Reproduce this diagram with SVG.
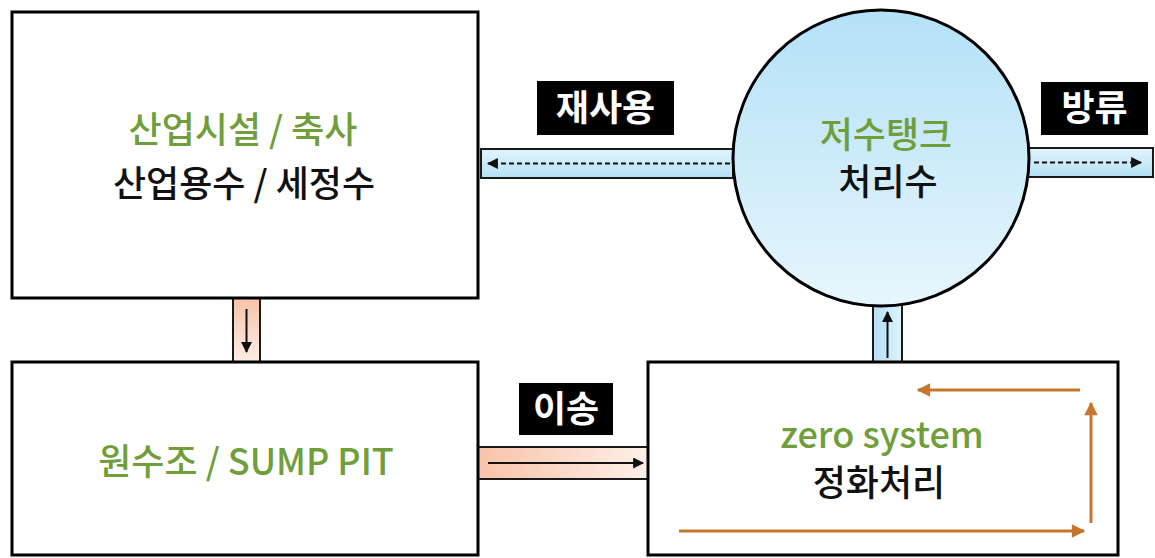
<svg xmlns="http://www.w3.org/2000/svg" width="1155" height="558" viewBox="0 0 1155 558">
<style>
.box{fill:#fff;stroke:#000;stroke-width:3}
.pipe{stroke:#1a1a1a;stroke-width:2}
.t{font-family:"Noto Sans CJK KR","Noto Sans",sans-serif;font-size:36px;font-weight:500;text-anchor:middle}
.g{fill:#6F9E3A}
.k{fill:#111}
.lbl{fill:#000}
.lt{font-family:"Noto Sans CJK KR","Noto Sans",sans-serif;font-size:36px;font-weight:bold;fill:#fff;text-anchor:middle}
.dash{stroke:#111;stroke-width:2;stroke-dasharray:5 3;fill:none}
.solid{stroke:#111;stroke-width:2;fill:none}
.or{stroke:#C5762E;stroke-width:3;fill:none}
</style>
<defs>
<linearGradient id="circ" x1="0" y1="0" x2="0" y2="1">
<stop offset="0" stop-color="#B4E1F7"/>
<stop offset="1" stop-color="#E6F6FD"/>
</linearGradient>
<linearGradient id="bpipeH" x1="0" y1="0" x2="0" y2="1">
<stop offset="0" stop-color="#E2F5FD"/>
<stop offset="1" stop-color="#B3E0F5"/>
</linearGradient>
<linearGradient id="bpipeV" x1="0" y1="0" x2="1" y2="0">
<stop offset="0" stop-color="#B3E0F5"/>
<stop offset="1" stop-color="#DDF3FC"/>
</linearGradient>
<linearGradient id="ppipeV" x1="0" y1="0" x2="0" y2="1">
<stop offset="0" stop-color="#F7C3A8"/>
<stop offset="1" stop-color="#FDEDE4"/>
</linearGradient>
<linearGradient id="ppipeH" x1="0" y1="0" x2="1" y2="0">
<stop offset="0" stop-color="#F7C3A8"/>
<stop offset="1" stop-color="#FDF0E8"/>
</linearGradient>
<marker id="ah" viewBox="0 0 10 10" refX="9" refY="5" markerWidth="6" markerHeight="5.5" orient="auto" markerUnits="strokeWidth">
<path d="M0,0 L10,5 L0,10 Z" fill="#111"/>
</marker>
<marker id="aho" viewBox="0 0 10 10" refX="9" refY="5" markerWidth="5" markerHeight="4.5" orient="auto" markerUnits="strokeWidth">
<path d="M0,0 L10,5 L0,10 Z" fill="#C5762E"/>
</marker>
</defs>

<g id="connectors">
<g id="pipe-reuse">
<rect class="pipe" x="481" y="149" width="252" height="29" fill="url(#bpipeH)"/>
<line class="dash" x1="730" y1="163.5" x2="488" y2="163.5" marker-end="url(#ah)"/>
</g>
<g id="pipe-discharge">
<rect class="pipe" x="1026" y="148" width="127" height="29" fill="url(#bpipeH)"/>
<line class="dash" x1="1034" y1="162.5" x2="1141" y2="162.5" marker-end="url(#ah)"/>
</g>
<g id="pipe-down">
<rect class="pipe" x="233" y="298" width="27" height="64" fill="url(#ppipeV)"/>
<line class="solid" x1="246.5" y1="309" x2="246.5" y2="352" marker-end="url(#ah)"/>
</g>
<g id="pipe-transfer">
<rect class="pipe" x="478" y="447" width="170" height="32" fill="url(#ppipeH)"/>
<line class="solid" x1="488" y1="463" x2="643" y2="463" marker-end="url(#ah)"/>
</g>
<g id="pipe-up">
<rect class="pipe" x="873" y="298" width="29" height="64" fill="url(#bpipeV)"/>
<line class="solid" x1="887.5" y1="358" x2="887.5" y2="312" marker-end="url(#ah)"/>
</g>
</g>

<g id="node-industrial">
<rect class="box" x="12" y="12" width="466" height="286"/>
<text class="t g" x="243" y="143">산업시설 / 축사</text>
<text class="t k" x="244" y="197">산업용수 / 세정수</text>
</g>

<g id="node-sump">
<rect class="box" x="12" y="362" width="466" height="193"/>
<text class="t g" x="246" y="475">원수조 / SUMP PIT</text>
</g>

<g id="node-tank">
<circle cx="881" cy="158" r="148" fill="url(#circ)" stroke="#000" stroke-width="3"/>
<text class="t g" x="886" y="148">저수탱크</text>
<text class="t k" x="888" y="195">처리수</text>
</g>

<g id="node-zero">
<rect class="box" x="648" y="362" width="470" height="193"/>
<text class="t g" x="882" y="448">zero system</text>
<text class="t k" x="879" y="496">정화처리</text>
<line class="or" x1="1080" y1="390" x2="918" y2="390" marker-end="url(#aho)"/>
<line class="or" x1="1091" y1="523" x2="1091" y2="403" marker-end="url(#aho)"/>
<line class="or" x1="679" y1="531" x2="1084" y2="531" marker-end="url(#aho)"/>
</g>

<g id="label-reuse">
<rect class="lbl" x="537" y="81" width="137" height="54"/>
<text class="lt" x="605.5" y="121">재사용</text>
</g>
<g id="label-discharge">
<rect class="lbl" x="1041" y="82" width="107" height="53"/>
<text class="lt" x="1094.5" y="121">방류</text>
</g>
<g id="label-transfer">
<rect class="lbl" x="519" y="383" width="94" height="52"/>
<text class="lt" x="566" y="422">이송</text>
</g>
</svg>
